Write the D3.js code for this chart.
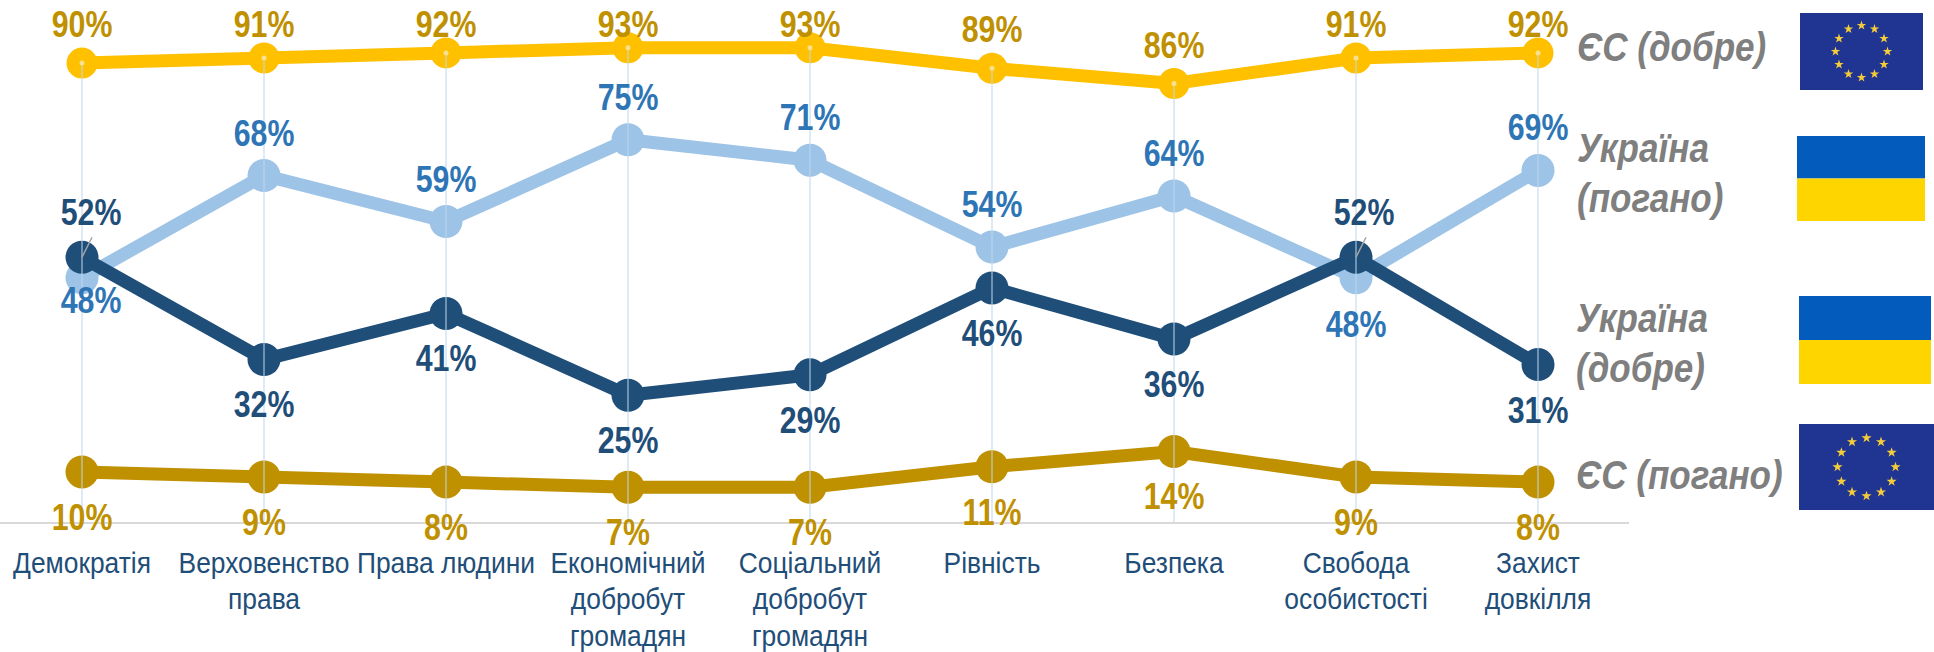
<!DOCTYPE html>
<html lang="uk">
<head>
    <meta charset="UTF-8">
    <title>ЄС та Україна: добре / погано</title>
    <script src="https://d3js.org/d3.v7.min.js"></script>
    <style>
        body { margin: 0; background: #fff; }
        svg { display: block; }
        text { font-family: "Liberation Sans", sans-serif; }
        .pct { font-size: 37px; font-weight: bold; text-anchor: middle; }
        .cat { font-size: 29px; fill: #1f4e79; text-anchor: middle; }
        .legend { font-size: 41px; font-weight: bold; font-style: italic; fill: #7f7f7f; }
    </style>
</head>
<body>
<div id="chart"></div>
<script>
const width = 1934;
const height = 652;

const categories = ["Демократія", "Верховенство\nправа", "Права людини", "Економічний\nдобробут\nгромадян",
    "Соціальний\nдобробут\nгромадян", "Рівність", "Безпека", "Свобода\nособистості", "Захист\nдовкілля"];
const euGood = [90, 91, 92, 93, 93, 89, 86, 91, 92];
const uaBad = [48, 68, 59, 75, 71, 54, 64, 48, 69];
const uaGood = [52, 32, 41, 25, 29, 46, 36, 52, 31];
const euBad = [10, 9, 8, 7, 7, 11, 14, 9, 8];

const x = d3.scalePoint().domain(categories).range([82, 1538]);
const y = d3.scaleLinear().domain([0, 100]).range([523, 12]);

const svg = d3.select("#chart").append("svg")
    .attr("width", width)
    .attr("height", height);

// axis: only the tick labels come from d3.axisBottom, baseline runs past the last point
const axis = svg.append("g")
    .attr("transform", `translate(0,${y(0)})`)
    .call(d3.axisBottom(x).tickSize(0).tickFormat(""));
axis.select(".domain").remove();
axis.selectAll(".tick text").remove();
svg.append("line")
    .attr("x1", 0).attr("x2", 1629)
    .attr("y1", y(0)).attr("y2", y(0))
    .attr("stroke", "#d9d9d9")
    .attr("stroke-width", 2);

// Liberation Sans is squeezed horizontally to get the narrow look of the original
const catText = svg.selectAll(".cat")
    .data(categories)
    .join("text")
    .attr("class", "cat")
    .attr("transform", d => `translate(${x(d)},573) scale(0.91,1)`);
catText.selectAll("tspan")
    .data(d => d.split("\n"))
    .join("tspan")
    .attr("x", 0)
    .attr("y", (d, i) => i * 36.5)
    .text(d => d);

const line = d3.line()
    .x((d, i) => x(categories[i]))
    .y(d => y(d));

// styles per series, label offsets are per series too with a few exceptions below
const series = [
    { values: euGood, stroke: "#ffc000", label: "#bf9000", r: 15.5, width: 13, dy: -26 },
    { values: euBad, stroke: "#bf9000", label: "#bf9000", r: 16.5, width: 13, dy: 58 },
    { values: uaBad, stroke: "#9dc3e6", label: "#2e75b6", r: 16.5, width: 13, dy: -30 },
    { values: uaGood, stroke: "#1f4e79", label: "#1f4e79", r: 16.5, width: 13, dy: 58 }
];

series.forEach(s => {
    svg.append("path")
        .attr("d", line(s.values))
        .attr("fill", "none")
        .attr("stroke", s.stroke)
        .attr("stroke-width", s.width);
    svg.selectAll(null)
        .data(s.values)
        .join("circle")
        .attr("cx", (d, i) => x(categories[i]))
        .attr("cy", d => y(d))
        .attr("r", s.r)
        .attr("fill", s.stroke);
});

// drop lines sit over the markers, slightly see-through
svg.selectAll(".drop")
    .data(euGood)
    .join("line")
    .attr("class", "drop")
    .attr("x1", (d, i) => x(categories[i]))
    .attr("x2", (d, i) => x(categories[i]))
    .attr("y1", d => y(d))
    .attr("y2", y(0))
    .attr("stroke", "#bdd7ee")
    .attr("stroke-opacity", 0.5)
    .attr("stroke-width", 2);
svg.selectAll(".dropTop")
    .data(euGood)
    .join("circle")
    .attr("class", "dropTop")
    .attr("cx", (d, i) => x(categories[i]))
    .attr("cy", d => y(d))
    .attr("r", 2.5)
    .attr("fill", "#f7e08f");

// leader lines of the two 52% labels
[0, 7].forEach(i => {
    svg.append("line")
        .attr("x1", x(categories[i]))
        .attr("y1", y(uaGood[i]))
        .attr("x2", x(categories[i]) + 10)
        .attr("y2", y(uaGood[i]) - 20)
        .attr("stroke", "#a6a6a6")
        .attr("stroke-width", 1.5);
});

function labelDx(s, i) {
    if (s.values === uaBad && i === 0) return 9;
    if (s.values === uaGood && i === 0) return 9;
    if (s.values === uaGood && i === 7) return 8;
    return 0;
}
function labelY(s, d, i) {
    if (s.values === euGood) return Math.max(y(d) + s.dy, 37); // top labels stay inside the frame
    if (s.values === uaBad && i === 0) return y(d) + 35;
    if (s.values === uaBad && i === 7) return y(d) + 59;
    if (s.values === uaGood && d === 52) return y(d) - 32;
    return y(d) + s.dy;
}
series.forEach(s => {
    svg.selectAll(null)
        .data(s.values)
        .join("text")
        .attr("class", "pct")
        .attr("fill", s.label)
        .attr("transform", (d, i) => `translate(${x(categories[i]) + labelDx(s, i)},${labelY(s, d, i)}) scale(0.82,1)`)
        .text(d => d + "%");
});

// legend texts
const legendRows = [
    { lines: ["ЄС (добре)"], x: 1577, y: 61 },
    { lines: ["Україна", "(погано)"], x: 1577, y: 162 },
    { lines: ["Україна", "(добре)"], x: 1576, y: 332 },
    { lines: ["ЄС (погано)"], x: 1576, y: 489 }
];
legendRows.forEach(r => {
    const t = svg.append("text")
        .attr("class", "legend")
        .attr("transform", `translate(${r.x},${r.y}) scale(0.855,1)`);
    r.lines.forEach((l, i) => t.append("tspan").attr("x", 0).attr("y", i * 50).text(l));
});

// flags
function uaFlag(x0, y0, w, h) {
    svg.append("rect").attr("x", x0).attr("y", y0).attr("width", w).attr("height", h / 2).attr("fill", "#035bbb");
    svg.append("rect").attr("x", x0).attr("y", y0 + h / 2).attr("width", w).attr("height", h / 2).attr("fill", "#ffd500");
}
function euFlag(x0, y0, w, h, ring, size) {
    svg.append("rect").attr("x", x0).attr("y", y0).attr("width", w).attr("height", h).attr("fill", "#203591");
    const star = d3.symbol().type(d3.symbolStar).size(size);
    svg.selectAll(null)
        .data(d3.range(12))
        .join("path")
        .attr("d", star)
        .attr("fill", "#f5cc3a")
        .attr("transform", i => {
            const a = i * Math.PI / 6;
            return `translate(${x0 + w / 2 + ring * Math.sin(a)},${y0 + h / 2 - ring * Math.cos(a)})`;
        });
}
euFlag(1800, 13, 123, 77, 26, 28);
uaFlag(1797, 136, 128, 85);
uaFlag(1799, 296, 132, 88);
euFlag(1799, 424, 135, 86, 29, 32);
</script>
</body>
</html>
